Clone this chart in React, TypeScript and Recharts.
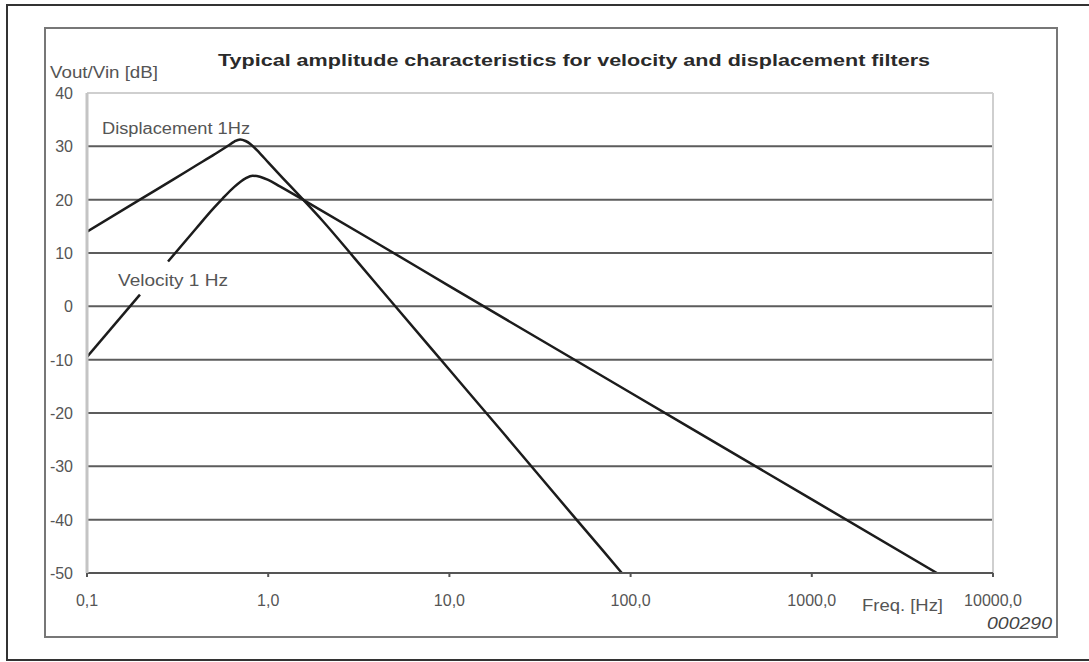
import React from 'react';
import { LineChart, Line, XAxis, YAxis, ReferenceLine } from 'recharts';

const xTicks = [0.1, 1, 10, 100, 1000, 10000];
const xTickLabels = ['0,1', '1,0', '10,0', '100,0', '1000,0', '10000,0'];
const yTicks = [-50, -40, -30, -20, -10, 0, 10, 20, 30, 40];

const displacementF = [0.1, 0.2, 0.3, 0.4, 0.5, 0.6, 0.65, 0.7, 0.75, 0.8, 0.9, 1.0, 1.2, 1.5, 2, 3, 5, 10, 20, 50, 70, 89.5];
const displacementDb = [14, 20.2, 23.8, 26.4, 28.4, 30.1, 30.9, 31.3, 31.0, 30.4, 28.7, 27.0, 24.1, 20.6, 16.0, 9.0, 0.1, -11.9, -23.9, -39.9, -45.7, -50];

const velocityLowF = [0.1, 0.196];
const velocityLowDb = [-9.5, 2.2];
const velocityHighF = [0.28, 0.4, 0.5, 0.56, 0.65, 0.75, 0.82, 0.9, 1.0, 1.16, 1.63, 4.1, 10, 100, 1000, 4900];
const velocityHighDb = [8.4, 14.6, 18.4, 20.2, 22.4, 24.0, 24.5, 24.3, 23.7, 22.5, 19.6, 11.6, 3.8, -16.2, -36.2, -50];

const toRows = (fs: number[], dbs: number[]) => fs.map((f, i) => ({ f, db: dbs[i] }));
const displacement = toRows(displacementF, displacementDb);
const velocityLow = toRows(velocityLowF, velocityLowDb);
const velocityHigh = toRows(velocityHighF, velocityHighDb);

const FONT = '"Liberation Sans", Arial, sans-serif';
const LINE = '#1c1c1c';

const YTick = (props: any) => {
  const { y, payload } = props;
  return (
    <text x={73} y={y + 6} textAnchor="end" fontFamily={FONT} fontSize={16} fill="#555">
      {payload.value}
    </text>
  );
};

const XTick = (props: any) => {
  const { x, payload } = props;
  const idx = xTicks.indexOf(payload.value);
  return (
    <text x={x} y={606} textAnchor="middle" fontFamily={FONT} fontSize={16} fill="#555">
      {idx >= 0 ? xTickLabels[idx] : ''}
    </text>
  );
};

export default function App() {
  const gridValues = yTicks.filter((v) => v !== 40 && v !== -50);
  return (
    <div style={{ position: 'absolute', left: 0, top: 0, width: 1089, height: 662, background: '#fff', overflow: 'hidden' }}>
      <svg width={1089} height={662} style={{ position: 'absolute', left: 0, top: 0 }}>
        <rect x={7} y={5} width={1120} height={655} fill="none" stroke="#333" strokeWidth={2} />
        <rect x={45} y={28} width={1012} height={609} fill="none" stroke="#777" strokeWidth={2} />
      </svg>
      <div style={{ position: 'absolute', left: 0, top: 0 }}>
        <LineChart width={1089} height={662} margin={{ top: 93, left: 37, right: 96, bottom: 59 }}>
          <XAxis
            type="number"
            dataKey="f"
            scale="log"
            domain={[0.1, 10000]}
            ticks={xTicks}
            allowDataOverflow
            height={30}
            axisLine={{ stroke: '#555', strokeWidth: 2 }}
            tickLine={{ stroke: '#555', strokeWidth: 2 }}
            tickSize={4}
            tick={<XTick />}
          />
          <YAxis
            type="number"
            dataKey="db"
            domain={[-50, 40]}
            ticks={yTicks}
            allowDataOverflow
            width={50}
            axisLine={{ stroke: '#c4c4c4', strokeWidth: 3 }}
            tickLine={false}
            tick={<YTick />}
          />
          {gridValues.map((v) => (
            <ReferenceLine key={v} y={v} stroke="#5c5c5c" strokeWidth={2} />
          ))}
          <ReferenceLine y={40} stroke="#cfcfcf" strokeWidth={2} />
          <ReferenceLine x={10000} stroke="#cfcfcf" strokeWidth={2} />
          <Line data={displacement} dataKey="db" type="monotone" stroke={LINE} strokeWidth={2.5} dot={false} isAnimationActive={false} />
          <Line data={velocityLow} dataKey="db" type="linear" stroke={LINE} strokeWidth={2.5} dot={false} isAnimationActive={false} />
          <Line data={velocityHigh} dataKey="db" type="monotone" stroke={LINE} strokeWidth={2.5} dot={false} isAnimationActive={false} />
        </LineChart>
      </div>
      <svg width={1089} height={662} style={{ position: 'absolute', left: 0, top: 0, pointerEvents: 'none' }}>
        <text x={218} y={66} fontFamily={FONT} fontSize={17} fontWeight="bold" fill="#2a2a2a" textLength={712} lengthAdjust="spacingAndGlyphs">
          Typical amplitude characteristics for velocity and displacement filters
        </text>
        <text x={50} y={78} fontFamily={FONT} fontSize={16} fill="#555" textLength={108} lengthAdjust="spacingAndGlyphs">
          Vout/Vin [dB]
        </text>
        <text x={102} y={134} fontFamily={FONT} fontSize={16} fill="#555" textLength={148} lengthAdjust="spacingAndGlyphs">
          Displacement 1Hz
        </text>
        <text x={118} y={286} fontFamily={FONT} fontSize={16} fill="#555" textLength={110} lengthAdjust="spacingAndGlyphs">
          Velocity 1 Hz
        </text>
        <text x={862} y={611} fontFamily={FONT} fontSize={16} fill="#555" textLength={81} lengthAdjust="spacingAndGlyphs">
          Freq. [Hz]
        </text>
        <text x={987} y={629} fontFamily={FONT} fontSize={16} fontStyle="italic" fill="#444" textLength={65} lengthAdjust="spacingAndGlyphs">
          000290
        </text>
      </svg>
    </div>
  );
}
